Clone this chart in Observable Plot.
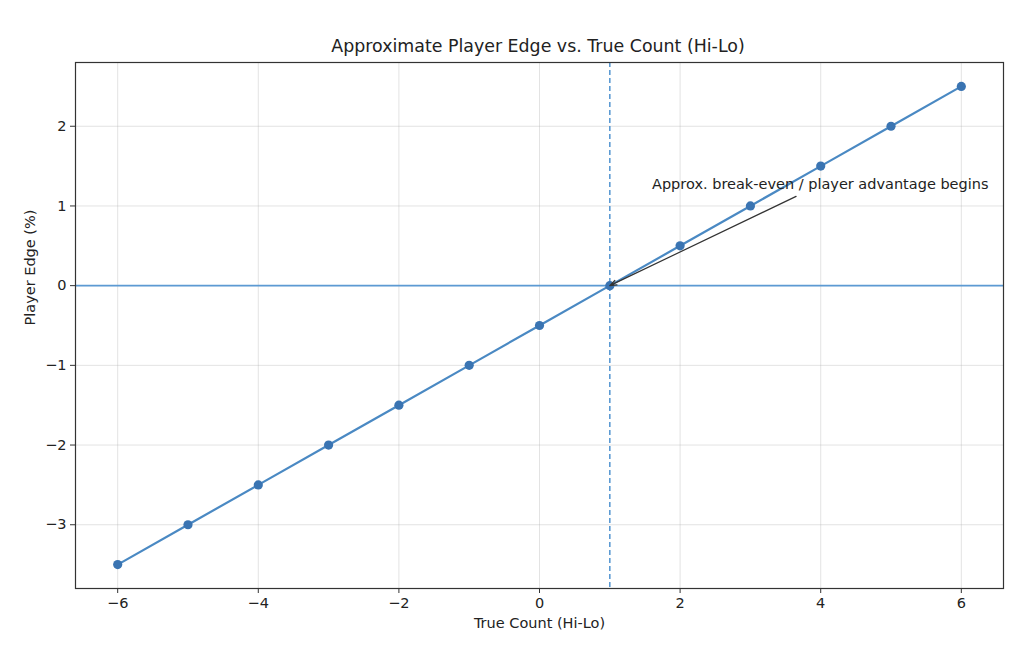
<!DOCTYPE html>
<html>
<head>
<meta charset="utf-8">
<script src="https://cdn.jsdelivr.net/npm/d3@7"></script>
<script src="https://cdn.jsdelivr.net/npm/@observablehq/plot@0.6"></script>
<style>
  html, body { margin: 0; padding: 0; background: white; }
  #title { height: 56px; position: relative; font-family: "DejaVu Sans", sans-serif; font-size: 17.4px; color: #222; }
  #title span { position: absolute; left: 538px; top: 46px; transform: translate(-50%, -50%); white-space: nowrap; }
  #chart svg { display: block; }
</style>
</head>
<body>
<div id="title"><span>Approximate Player Edge vs. True Count (Hi-Lo)</span></div>
<div id="chart"></div>
<script>
const trueCount = [-6, -5, -4, -3, -2, -1, 0, 1, 2, 3, 4, 5, 6];
const playerEdge = [-3.5, -3, -2.5, -2, -1.5, -1, -0.5, 0, 0.5, 1, 1.5, 2, 2.5];
const xTicks = [-6, -4, -2, 0, 2, 4, 6];
const yTicks = [-3, -2, -1, 0, 1, 2];
const xLabel = "True Count (Hi-Lo)";
const yLabel = "Player Edge (%)";
const breakEvenX = [1];
const zeroY = [0];
const annotation = [{
  text: "Approx. break-even / player advantage begins",
  textX: 1.6, textY: 1.2,
  tailX: 3.65, tailY: 1.12,
  headX: 1, headY: 0
}];

const data = trueCount.map((c, i) => ({ x: c, y: playerEdge[i] }));
const lineBlue = "#4a89c3";
const ruleBlue = "#5c9ad3";
const dotBlue = "#3a74b2";
const fmt = d3.format("d");

const chart = Plot.plot({
  width: 1024,
  height: 600,
  marginLeft: 75,
  marginRight: 21,
  marginTop: 6,
  marginBottom: 68,
  style: { fontFamily: "DejaVu Sans, sans-serif", fontSize: "14.5px", color: "#222", background: "white" },
  x: { domain: [-6.6, 6.6], ticks: xTicks, label: null, tickFormat: fmt },
  y: { domain: [-3.8, 2.8], ticks: yTicks, label: null, tickFormat: fmt },
  marks: [
    Plot.gridX(xTicks, { stroke: "#b0b0b0", strokeOpacity: 0.35 }),
    Plot.gridY(yTicks, { stroke: "#b0b0b0", strokeOpacity: 0.35 }),
    Plot.ruleY(zeroY, { stroke: ruleBlue, strokeWidth: 1.6 }),
    Plot.ruleX(breakEvenX, { stroke: ruleBlue, strokeWidth: 1.6, strokeDasharray: "5,3" }),
    Plot.line(data, { x: "x", y: "y", stroke: lineBlue, strokeWidth: 2.2 }),
    Plot.dot(data, { x: "x", y: "y", fill: dotBlue, r: 4.6 }),
    Plot.arrow(annotation, { x1: "tailX", y1: "tailY", x2: "headX", y2: "headY", stroke: "#333", strokeWidth: 1.2, headLength: 9, headAngle: 40 }),
    Plot.text(annotation, { x: "textX", y: "textY", text: "text", textAnchor: "start", lineAnchor: "bottom", dy: -1, fontSize: 14.5, fill: "#222" }),
    Plot.axisX(xTicks, { tickSize: 5, tickPadding: 4, label: null, stroke: "#333", tickFormat: fmt }),
    Plot.axisY(yTicks, { tickSize: 5, tickPadding: 4, label: null, stroke: "#333", tickFormat: fmt }),
    Plot.frame({ stroke: "#333", strokeWidth: 1.2 }),
    Plot.text([xLabel], { frameAnchor: "bottom", dy: 35, lineAnchor: "middle", fontSize: 14.5, fill: "#222" }),
    Plot.text([yLabel], { frameAnchor: "left", dx: -45, rotate: -90, lineAnchor: "middle", fontSize: 14.5, fill: "#222" })
  ]
});
document.getElementById("chart").appendChild(chart);
</script>
</body>
</html>
